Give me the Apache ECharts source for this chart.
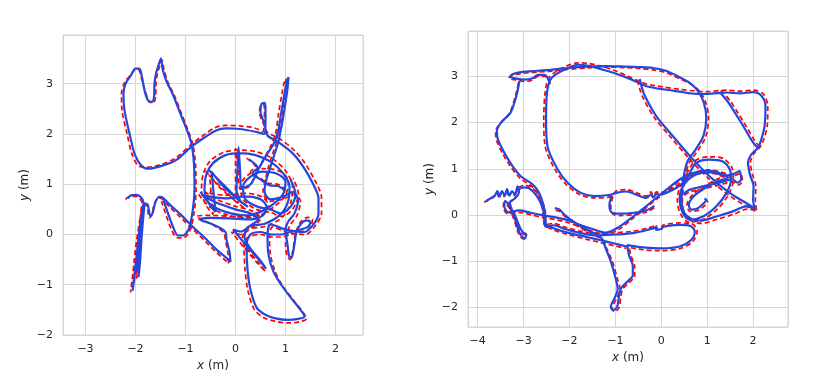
<!DOCTYPE html>
<html>
<head>
<meta charset="utf-8">
<script src="https://cdn.jsdelivr.net/npm/echarts@6/dist/echarts.min.js"></script>
<style>
  html, body { margin: 0; padding: 0; background: #fff; }
  #chart { width: 830px; height: 378px; }
</style>
</head>
<body>
<div id="chart"></div>
<script>
// ---- left panel: ground truth (red dashed) and estimate (blue), x/y in metres ----
const leftTruth = [
  [[-2.2,0.7],[-2.12,0.76],[-2.0,0.76],[-1.92,0.72],[-1.86,0.6],
   [-1.9,0.2],[-1.96,-0.4],[-1.98,-0.88],[-1.94,-0.55],[-1.9,0.05],[-1.85,0.58],
   [-1.93,0.2],[-2.02,-0.5],[-2.08,-1.0],[-2.1,-1.15],[-2.06,-0.85],[-1.99,-0.2],[-1.88,0.48],
   [-1.94,-0.05],[-2.0,-0.75],[-1.95,-0.35],[-1.86,0.6],
   [-1.78,0.57],[-1.72,0.33],[-1.67,0.42],[-1.62,0.62],[-1.54,0.73],[-1.47,0.71],
   [-1.32,0.55],[-1.1,0.34],[-0.85,0.1],[-0.6,-0.14],[-0.38,-0.36],[-0.22,-0.5],[-0.14,-0.58],[-0.15,-0.38],[-0.2,-0.12],[-0.24,0.04],
   [-0.5,0.22],[-0.78,0.36],[-0.5,0.38],[-0.1,0.36],[0.3,0.35],[0.58,0.42],[0.66,0.58],[0.52,0.75],[0.2,0.82],[-0.2,0.78],[-0.6,0.84],[-0.38,0.7],[0.0,0.56],[0.32,0.47],[0.5,0.32],[0.33,0.14],[0.1,0.0],[-0.08,0.05],
   [0.18,-0.27],[0.42,-0.55],[0.6,-0.74],[0.48,-0.58],[0.27,-0.33],[0.14,-0.08],[0.22,0.1],
   [0.6,0.16],[0.93,0.34],[1.1,0.62],[1.14,0.95],[1.0,1.27],[0.72,1.52],[0.4,1.65],[0.1,1.68],[-0.22,1.64],[-0.5,1.47],[-0.64,1.22],[-0.68,0.9],[-0.6,0.6],[-0.45,0.4],
   [-0.52,1.18],[-0.34,0.96],[-0.14,0.78],[0.06,0.62],[0.0,0.86],[0.0,1.3],[0.0,1.72],[0.05,1.3],[0.1,0.9],[0.28,0.96],[0.42,1.24],[0.56,1.5],[0.7,1.75],[0.8,2.0],[0.86,2.4],[0.93,2.8],[0.98,3.05],[1.01,3.1],[1.0,2.9],[0.95,2.5],[0.9,2.2],[0.86,2.05],[0.82,1.85],[0.74,1.6],[0.66,1.35],[0.6,1.1],[0.55,0.85],
   [0.68,0.66],[0.95,0.7],[1.18,0.8],[1.3,0.66],[1.23,0.38],[1.1,0.2],[1.04,0.05],[1.0,-0.2],[1.03,-0.42],[1.09,-0.5],[1.15,-0.3],[1.2,0.02],[1.3,0.25],[1.44,0.34],[1.54,0.3],[1.48,0.12],[1.3,0.05],[1.1,0.0],[0.9,-0.05],[0.7,-0.05],
   [0.5,0.0],[0.26,-0.05],[0.17,-0.2],[0.19,-0.7],[0.25,-1.12],[0.38,-1.5],[0.58,-1.66],[0.8,-1.73],[1.05,-1.76],[1.27,-1.74],[1.42,-1.67],[1.33,-1.52],[1.13,-1.27],[0.93,-1.0],[0.79,-0.73],[0.7,-0.4],[0.68,-0.05],[0.74,0.15],[1.0,0.05],[1.4,0.0],
   [1.6,0.18],[1.72,0.42],[1.72,0.74],[1.6,1.05],[1.4,1.4],[1.18,1.67],[0.86,1.92],[0.64,2.03],[0.56,2.2],[0.48,2.42],[0.5,2.56],[0.56,2.58],[0.58,2.48],[0.57,2.2],[0.55,2.05],[0.38,2.12],[0.08,2.16],[-0.19,2.17],[-0.4,2.13],[-0.66,1.96],[-0.9,1.78],[-1.2,1.52],[-1.5,1.39],[-1.76,1.34],[-1.93,1.36],[-2.07,1.6],[-2.17,2.01],[-2.27,2.47],[-2.28,2.8],[-2.22,3.02],[-2.1,3.17],[-2.0,3.28],[-1.93,3.27],[-1.88,3.1],[-1.8,2.84],[-1.73,2.64],[-1.64,2.62],[-1.6,2.74],[-1.59,3.01],[-1.56,3.2],[-1.5,3.4],[-1.47,3.47],
   [-1.43,3.28],[-1.35,3.03],[-1.22,2.76],[-1.09,2.43],[-0.95,2.08],[-0.85,1.78],[-0.8,1.4],[-0.79,0.9],[-0.83,0.42],[-0.92,0.06],[-1.05,-0.07],[-1.18,-0.06],[-1.29,0.12],[-1.4,0.42],[-1.48,0.66]],
  [[-0.74,0.8],[-0.52,0.55],[-0.2,0.4],[0.2,0.33],[0.52,0.4],[0.78,0.56],[1.0,0.78],[1.06,1.06],[0.88,1.26],[0.55,1.31],[0.27,1.2],[0.1,0.98],[0.15,0.7],[0.42,0.5],[0.7,0.44],[0.92,0.36],[1.14,0.5],[1.26,0.8],[1.15,1.12]],
  [[-0.6,1.26],[-0.4,1.05],[-0.2,0.86],[0.0,0.66],[0.22,0.5]],
  [[0.22,1.52],[0.4,1.35],[0.3,1.25],[0.5,1.12],[0.66,1.02],[0.85,1.0],[1.0,0.9]]
];
const leftEst = [
  [[-2.15,0.72],[-2.09,0.78],[-1.99,0.79],[-1.9,0.75],[-1.84,0.64],
   [-1.88,0.25],[-1.92,-0.35],[-1.94,-0.85],[-1.91,-0.55],[-1.87,0.05],[-1.82,0.6],
   [-1.9,0.25],[-1.98,-0.45],[-2.04,-0.95],[-2.06,-1.12],[-2.02,-0.85],[-1.95,-0.2],[-1.85,0.5],
   [-1.91,-0.05],[-1.96,-0.72],[-1.92,-0.35],[-1.83,0.62],
   [-1.76,0.6],[-1.7,0.36],[-1.65,0.45],[-1.6,0.65],[-1.52,0.75],[-1.46,0.74],
   [-1.32,0.6],[-1.1,0.4],[-0.85,0.15],[-0.6,-0.08],[-0.38,-0.3],[-0.2,-0.45],[-0.1,-0.54],[-0.12,-0.35],[-0.18,-0.1],[-0.2,0.05],
   [-0.45,0.2],[-0.72,0.3],[-0.5,0.33],[-0.1,0.32],[0.3,0.3],[0.55,0.38],[0.62,0.55],[0.5,0.7],[0.2,0.76],[-0.2,0.72],[-0.65,0.78],[-0.4,0.64],[0.0,0.5],[0.3,0.42],[0.45,0.3],[0.3,0.18],[0.1,0.06],[-0.05,0.1],
   [0.21,-0.21],[0.45,-0.48],[0.61,-0.68],[0.5,-0.52],[0.3,-0.28],[0.18,-0.05],[0.25,0.15],
   [0.6,0.22],[0.9,0.4],[1.05,0.65],[1.08,0.95],[0.95,1.22],[0.7,1.45],[0.4,1.58],[0.1,1.62],[-0.2,1.58],[-0.45,1.42],[-0.58,1.2],[-0.62,0.9],[-0.55,0.65],[-0.4,0.45],
   [-0.48,1.25],[-0.3,1.02],[-0.1,0.82],[0.1,0.66],[0.02,0.88],[0.04,1.3],[0.06,1.74],[0.09,1.3],[0.12,0.92],[0.3,1.0],[0.45,1.28],[0.6,1.55],[0.75,1.78],[0.84,2.0],[0.91,2.4],[0.98,2.8],[1.03,3.05],[1.06,3.13],[1.04,2.9],[0.98,2.5],[0.93,2.2],[0.9,2.06],[0.86,1.85],[0.78,1.6],[0.7,1.35],[0.62,1.1],[0.58,0.85],
   [0.7,0.7],[0.95,0.75],[1.15,0.85],[1.25,0.68],[1.18,0.42],[1.05,0.25],[1.0,0.1],[1.04,-0.2],[1.07,-0.42],[1.12,-0.46],[1.17,-0.25],[1.22,0.05],[1.3,0.2],[1.42,0.28],[1.5,0.25],[1.45,0.15],[1.3,0.1],[1.1,0.05],[0.9,0.0],[0.7,0.0],
   [0.5,0.05],[0.3,0.0],[0.22,-0.2],[0.24,-0.7],[0.3,-1.1],[0.42,-1.45],[0.6,-1.6],[0.8,-1.67],[1.05,-1.7],[1.25,-1.68],[1.38,-1.63],[1.3,-1.5],[1.1,-1.25],[0.9,-0.98],[0.75,-0.72],[0.66,-0.4],[0.64,-0.05],[0.7,0.2],[1.0,0.1],[1.38,0.05],
   [1.56,0.2],[1.66,0.42],[1.66,0.72],[1.55,1.01],[1.36,1.34],[1.15,1.61],[0.84,1.85],[0.64,1.97],[0.58,2.2],[0.5,2.45],[0.52,2.6],[0.58,2.62],[0.6,2.5],[0.6,2.2],[0.58,2.0],[0.38,2.05],[0.08,2.1],[-0.19,2.11],[-0.39,2.07],[-0.65,1.91],[-0.89,1.74],[-1.19,1.48],[-1.49,1.36],[-1.75,1.31],[-1.89,1.38],[-2.02,1.61],[-2.12,2.01],[-2.22,2.47],[-2.24,2.8],[-2.2,3.0],[-2.09,3.17],[-2.0,3.3],[-1.92,3.3],[-1.87,3.13],[-1.82,2.87],[-1.75,2.67],[-1.67,2.64],[-1.63,2.74],[-1.62,3.01],[-1.59,3.2],[-1.53,3.4],[-1.49,3.5],
   [-1.46,3.3],[-1.38,3.05],[-1.25,2.78],[-1.12,2.45],[-0.98,2.1],[-0.88,1.8],[-0.83,1.4],[-0.82,0.9],[-0.86,0.45],[-0.93,0.12],[-1.05,-0.02],[-1.15,-0.02],[-1.25,0.15],[-1.36,0.45],[-1.44,0.68]],
  [[-0.7,0.85],[-0.5,0.6],[-0.2,0.45],[0.2,0.38],[0.5,0.45],[0.75,0.6],[0.95,0.8],[1.0,1.05],[0.85,1.2],[0.55,1.25],[0.3,1.15],[0.15,0.95],[0.2,0.7],[0.45,0.55],[0.7,0.5],[0.9,0.42],[1.1,0.55],[1.2,0.8],[1.1,1.1]],
  [[-0.55,1.3],[-0.35,1.1],[-0.15,0.9],[0.05,0.7],[0.25,0.55]],
  [[0.26,1.5],[0.44,1.33],[0.34,1.22],[0.52,1.08],[0.68,0.98],[0.86,0.96],[1.0,0.86]]
];

// ---- right panel ----
const rightTruth = [
  [[-3.86,0.28],[-3.75,0.33],[-3.64,0.4],[-3.58,0.48],[-3.53,0.37],[-3.48,0.5],[-3.42,0.4],[-3.37,0.53],[-3.32,0.4],[-3.26,0.5],[-3.2,0.42],[-3.14,0.58],[-3.11,0.47],[-3.22,0.33],[-3.32,0.25],[-3.27,0.07],[-3.2,-0.12],[-3.13,-0.35],[-3.06,-0.48],[-2.99,-0.52],[-2.96,-0.44],[-3.04,-0.39],[-3.12,-0.24],[-3.22,0.0],[-3.42,0.27],[-3.44,0.17],[-3.35,0.03],[-3.1,0.06],[-2.85,0.01],[-2.6,-0.05],[-2.3,-0.1],[-2.0,-0.17],[-1.75,-0.27],[-1.5,-0.35],[-1.2,-0.42],[-0.91,-0.3],[-0.62,-0.07],[-0.35,0.14],[-0.12,0.33],[0.1,0.5],[0.38,0.72],[0.6,0.84],[0.9,0.9],[1.13,0.9],[1.42,0.81],[1.6,0.85],[1.72,0.9],[1.77,0.74],[1.68,0.65],[1.55,0.72],[1.27,0.65],[0.91,0.57],[0.62,0.5],[0.46,0.4]],
  [[-2.42,2.83],[-2.45,2.93],[-2.54,3.0],[-2.69,3.0],[-2.8,2.92],[-2.98,2.89],[-3.16,2.92],[-3.32,2.96],[-3.27,3.01],[-3.06,3.06],[-2.7,3.09],[-2.4,3.11],[-2.04,3.15],[-1.6,3.18],[-1.2,3.2],[-0.8,3.19],[-0.5,3.17],[-0.18,3.14],[0.1,3.08],[0.42,2.94],[0.66,2.82],[0.85,2.66],[0.98,2.4],[1.03,2.1],[0.97,1.7],[0.8,1.4],[0.62,1.15],[0.53,0.88],[0.48,0.58],[0.46,0.28],[0.52,0.0],[0.68,-0.14],[0.88,-0.18],[1.22,-0.09],[1.58,0.02],[1.88,0.13],[2.08,0.08],[2.05,0.33],[2.06,0.62],[1.98,0.9],[1.94,1.13],[2.02,1.33],[2.16,1.48],[2.24,1.66],[2.31,1.95],[2.32,2.36],[2.22,2.62],[2.02,2.7],[1.71,2.68],[1.42,2.7],[1.0,2.67],[0.76,2.68],[0.4,2.72],[0.04,2.77],[-0.3,2.83],[-0.5,2.9],[-0.72,3.0],[-1.0,3.12],[-1.3,3.22],[-1.6,3.28],[-1.82,3.29],[-2.12,3.2],[-2.33,3.08],[-2.46,2.95],[-2.53,2.66],[-2.56,2.07],[-2.53,1.49],[-2.3,0.96],[-2.07,0.66],[-1.77,0.44],[-1.46,0.37],[-1.1,0.4],[-0.98,0.52],[-0.76,0.55],[-0.54,0.48],[-0.33,0.41],[-0.22,0.5],[-0.18,0.42],[-0.1,0.5],[-0.04,0.48],[0.11,0.52],[0.33,0.63],[0.48,0.76],[0.59,0.96],[0.74,1.18],[1.05,1.26],[1.36,1.22],[1.54,1.02],[1.57,0.77],[1.47,0.45],[1.23,0.14],[0.92,-0.09],[0.6,-0.15],[0.42,0.02],[0.35,0.33],[0.43,0.65],[0.68,0.89],[1.0,0.98],[1.3,0.93],[1.45,0.87],[1.2,0.77],[0.9,0.6],[0.68,0.44],[0.56,0.22],[0.62,0.08],[0.8,0.1],[0.94,0.2],[1.01,0.29],[0.97,0.33]],
  [[-0.52,2.92],[-0.47,2.73],[-0.41,2.56],[-0.16,2.12],[0.2,1.69],[0.58,1.25],[1.02,0.8],[1.47,0.43],[1.84,0.2],[2.06,0.1]],
  [[1.3,2.7],[1.5,2.47],[1.65,2.24],[1.85,1.92],[2.03,1.62],[2.14,1.47]],
  [[-3.11,2.86],[-3.18,2.57],[-3.31,2.19],[-3.52,1.97],[-3.61,1.8],[-3.59,1.62],[-3.45,1.32],[-3.27,1.03],[-3.08,0.8],[-2.82,0.62],[-2.69,0.45],[-2.6,0.18],[-2.57,-0.04],[-2.54,-0.22],[-2.32,-0.33],[-2.0,-0.43],[-1.6,-0.53],[-1.34,-0.59],[-1.0,-0.67],[-0.76,-0.72]],
  [[-2.3,0.1],[-2.2,0.07],[-2.08,-0.05],[-1.88,-0.2],[-1.63,-0.35],[-1.43,-0.45],[-1.27,-0.53],[-1.19,-0.72],[-1.06,-1.02],[-0.96,-1.36],[-0.9,-1.6],[-0.98,-1.82],[-1.07,-2.0],[-1.02,-2.09],[-0.92,-2.0],[-0.88,-1.76],[-0.84,-1.6],[-0.71,-1.47],[-0.58,-1.32],[-0.58,-1.1],[-0.66,-0.88],[-0.7,-0.7],[-0.4,-0.75],[0.0,-0.77],[0.42,-0.72],[0.69,-0.57],[0.78,-0.36],[0.69,-0.2],[0.4,-0.17],[0.05,-0.21],[0.0,-0.26],[-0.12,-0.28],[-0.1,-0.22],[-0.3,-0.28],[-0.62,-0.35],[-1.0,-0.38],[-1.4,-0.4],[-1.8,-0.34],[-2.1,-0.26],[-2.35,-0.18],[-2.5,-0.2],[-2.52,-0.06],[-2.53,0.1],[-2.6,0.31],[-2.71,0.49],[-2.86,0.62],[-3.0,0.64],[-3.14,0.58]],
  [[-1.05,0.4],[-1.1,0.2],[-1.05,0.02],[-0.9,-0.01],[-0.6,0.01],[-0.33,0.06],[-0.15,0.16]]
];
const rightEst = [
  [[-3.82,0.3],[-3.72,0.36],[-3.62,0.43],[-3.57,0.52],[-3.52,0.4],[-3.47,0.52],[-3.41,0.42],[-3.36,0.56],[-3.31,0.42],[-3.25,0.52],[-3.19,0.44],[-3.13,0.62],[-3.1,0.5],[-3.2,0.35],[-3.3,0.28],[-3.25,0.1],[-3.18,-0.1],[-3.11,-0.33],[-3.04,-0.46],[-2.97,-0.5],[-2.94,-0.42],[-3.02,-0.37],[-3.1,-0.22],[-3.2,0.02],[-3.4,0.3],[-3.42,0.2],[-3.33,0.06],[-3.1,0.1],[-2.85,0.05],[-2.6,0.0],[-2.3,-0.05],[-2.0,-0.12],[-1.75,-0.22],[-1.5,-0.3],[-1.2,-0.38],[-0.91,-0.25],[-0.6,-0.02],[-0.33,0.19],[-0.1,0.38],[0.11,0.55],[0.4,0.77],[0.62,0.88],[0.9,0.95],[1.13,0.95],[1.42,0.86],[1.6,0.9],[1.7,0.95],[1.74,0.78],[1.66,0.7],[1.55,0.77],[1.27,0.7],[0.91,0.62],[0.62,0.55],[0.48,0.45]],
  [[-2.44,2.86],[-2.47,2.96],[-2.55,3.03],[-2.69,3.03],[-2.8,2.96],[-2.98,2.93],[-3.15,2.95],[-3.29,2.99],[-3.25,3.04],[-3.06,3.09],[-2.7,3.12],[-2.4,3.14],[-2.04,3.18],[-1.6,3.21],[-1.2,3.22],[-0.8,3.21],[-0.5,3.2],[-0.18,3.18],[0.1,3.12],[0.4,2.98],[0.62,2.86],[0.8,2.68],[0.93,2.42],[0.98,2.1],[0.92,1.72],[0.75,1.42],[0.58,1.18],[0.5,0.9],[0.46,0.6],[0.44,0.3],[0.5,0.05],[0.65,-0.08],[0.85,-0.12],[1.2,-0.03],[1.56,0.08],[1.85,0.19],[2.04,0.13],[2.0,0.33],[2.01,0.62],[1.93,0.88],[1.89,1.13],[1.96,1.31],[2.11,1.46],[2.18,1.64],[2.25,1.93],[2.27,2.36],[2.18,2.58],[2.0,2.66],[1.71,2.63],[1.42,2.65],[1.0,2.62],[0.76,2.62],[0.4,2.67],[0.04,2.72],[-0.3,2.78],[-0.47,2.85],[-0.7,2.95],[-1.0,3.06],[-1.3,3.15],[-1.55,3.22],[-1.82,3.25],[-2.1,3.15],[-2.3,3.04],[-2.42,2.92],[-2.49,2.65],[-2.51,2.07],[-2.48,1.49],[-2.26,0.99],[-2.04,0.7],[-1.75,0.48],[-1.46,0.41],[-1.1,0.44],[-0.98,0.48],[-0.76,0.51],[-0.54,0.44],[-0.33,0.37],[-0.22,0.45],[-0.18,0.38],[-0.1,0.46],[-0.04,0.44],[0.11,0.48],[0.33,0.59],[0.5,0.72],[0.62,0.91],[0.76,1.13],[1.05,1.2],[1.34,1.16],[1.49,0.99],[1.52,0.77],[1.42,0.48],[1.2,0.19],[0.91,-0.03],[0.62,-0.1],[0.47,0.04],[0.4,0.33],[0.47,0.62],[0.7,0.85],[1.0,0.93],[1.3,0.88],[1.45,0.82],[1.2,0.72],[0.9,0.55],[0.7,0.4],[0.6,0.22],[0.65,0.12],[0.8,0.15],[0.92,0.25],[0.98,0.33],[0.94,0.36]],
  [[-0.47,2.94],[-0.42,2.75],[-0.36,2.58],[-0.11,2.14],[0.25,1.71],[0.62,1.28],[1.05,0.84],[1.49,0.48],[1.85,0.26],[2.03,0.15]],
  [[1.27,2.66],[1.45,2.45],[1.6,2.22],[1.8,1.9],[1.98,1.6],[2.1,1.45]],
  [[-3.09,2.9],[-3.15,2.6],[-3.28,2.22],[-3.49,2.0],[-3.58,1.82],[-3.56,1.64],[-3.42,1.35],[-3.24,1.06],[-3.06,0.84],[-2.8,0.66],[-2.66,0.48],[-2.56,0.19],[-2.53,-0.03],[-2.51,-0.2],[-2.3,-0.3],[-2.0,-0.39],[-1.6,-0.48],[-1.34,-0.54],[-1.0,-0.62],[-0.76,-0.68]],
  [[-2.32,0.15],[-2.22,0.12],[-2.1,0.0],[-1.9,-0.15],[-1.65,-0.3],[-1.45,-0.4],[-1.3,-0.5],[-1.22,-0.7],[-1.1,-1.0],[-1.0,-1.35],[-0.95,-1.6],[-1.02,-1.8],[-1.1,-1.98],[-1.05,-2.06],[-0.96,-1.98],[-0.92,-1.75],[-0.87,-1.57],[-0.74,-1.44],[-0.62,-1.3],[-0.62,-1.1],[-0.7,-0.88],[-0.74,-0.65],[-0.4,-0.7],[0.0,-0.72],[0.4,-0.68],[0.65,-0.54],[0.73,-0.36],[0.65,-0.24],[0.4,-0.21],[0.05,-0.25],[0.0,-0.3],[-0.12,-0.32],[-0.1,-0.26],[-0.3,-0.32],[-0.62,-0.39],[-1.0,-0.42],[-1.4,-0.44],[-1.8,-0.38],[-2.1,-0.3],[-2.35,-0.22],[-2.52,-0.25],[-2.55,-0.1],[-2.56,0.06],[-2.63,0.27],[-2.74,0.45],[-2.88,0.58],[-3.0,0.6],[-3.12,0.55]],
  [[-1.08,0.42],[-1.13,0.22],[-1.08,0.06],[-0.9,0.03],[-0.6,0.05],[-0.33,0.1],[-0.15,0.2]]
];

// axis extents (equal aspect in each panel)
const leftX = [-3.45, 2.55], leftY = [-2.0, 3.97];
const rightX = [-4.21, 2.76], rightY = [-2.42, 3.98];

const TRUTH_COLOR = '#ff0000';
const EST_COLOR = '#2446dc';
const GRID_COLOR = '#d6d6d6';
const TEXT_COLOR = '#262626';
const FONT = 'DejaVu Sans';

// join segments with gaps so each is drawn as its own stroke
function joinSegments(segs) {
  let out = [];
  segs.forEach(function (s, i) {
    if (i > 0) out.push('-');
    out = out.concat(s);
  });
  return out;
}

function tickFmt(v) {
  if (Math.abs(v - Math.round(v)) > 1e-6) return '';
  return String(Math.round(v)).replace('-', '\u2212');
}

function makeX(idx, ext) {
  return {
    gridIndex: idx, type: 'value', min: ext[0], max: ext[1],
    name: '{it|x} (m)', nameLocation: 'middle', nameGap: 24,
    nameTextStyle: { color: TEXT_COLOR, fontSize: 12, fontFamily: FONT,
      rich: { it: { fontStyle: 'italic', color: TEXT_COLOR, fontSize: 12, fontFamily: FONT } } },
    axisLine: { show: false }, axisTick: { show: false },
    axisLabel: { color: TEXT_COLOR, fontSize: 11, fontFamily: FONT, margin: 9, formatter: tickFmt },
    splitLine: { show: true, lineStyle: { color: GRID_COLOR, width: 1 } }
  };
}
function makeY(idx, ext) {
  return {
    gridIndex: idx, type: 'value', min: ext[0], max: ext[1],
    name: '{it|y} (m)', nameLocation: 'middle', nameGap: 32, nameRotate: 90,
    nameTextStyle: { color: TEXT_COLOR, fontSize: 12, fontFamily: FONT,
      rich: { it: { fontStyle: 'italic', color: TEXT_COLOR, fontSize: 12, fontFamily: FONT } } },
    axisLine: { show: false }, axisTick: { show: false },
    axisLabel: { color: TEXT_COLOR, fontSize: 11, fontFamily: FONT, margin: 10, formatter: tickFmt },
    splitLine: { show: true, lineStyle: { color: GRID_COLOR, width: 1 } }
  };
}
function truthSeries(idx, segs) {
  return {
    type: 'line', xAxisIndex: idx, yAxisIndex: idx, data: joinSegments(segs),
    showSymbol: false, smooth: 0.3, connectNulls: false,
    lineStyle: { color: TRUTH_COLOR, width: 1.7, type: [5, 3] }
  };
}
function estSeries(idx, segs) {
  return {
    type: 'line', xAxisIndex: idx, yAxisIndex: idx, data: joinSegments(segs),
    showSymbol: false, smooth: 0.3, connectNulls: false,
    lineStyle: { color: EST_COLOR, width: 2.2 }
  };
}

const chart = echarts.init(document.getElementById('chart'), null, { renderer: 'canvas' });
chart.setOption({
  animation: false,
  backgroundColor: '#ffffff',
  textStyle: { fontFamily: FONT },
  grid: [
    { left: 63, top: 35, width: 300, height: 300, show: true, borderColor: GRID_COLOR, borderWidth: 1, backgroundColor: 'transparent' },
    { left: 468, top: 31, width: 320, height: 296, show: true, borderColor: GRID_COLOR, borderWidth: 1, backgroundColor: 'transparent' }
  ],
  xAxis: [makeX(0, leftX), makeX(1, rightX)],
  yAxis: [makeY(0, leftY), makeY(1, rightY)],
  series: [
    truthSeries(0, leftTruth), estSeries(0, leftEst),
    truthSeries(1, rightTruth), estSeries(1, rightEst)
  ]
});
</script>
</body>
</html>
